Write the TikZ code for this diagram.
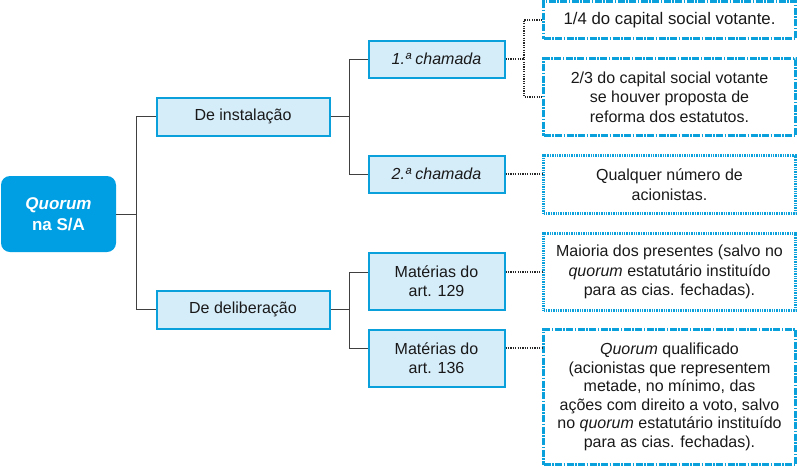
\documentclass[tikz,border=0pt]{standalone}
\usepackage{fontspec}
\setmainfont{Liberation Sans}
\definecolor{bcyan}{HTML}{0AA0DC}
\definecolor{lblue}{HTML}{D5ECF9}
\definecolor{rootc}{HTML}{009FE3}
\begin{document}
\begin{tikzpicture}[x=1pt,y=-1pt]
\tikzset{
 txt/.style={font=\fontsize{16}{19.5}\selectfont, text=black!90},
 lbox/.style={txt, draw=bcyan, line width=2pt, fill=lblue, inner sep=0pt, align=center},
 rbox/.style={txt, inner sep=0pt, align=center, minimum width=252pt},
 dashbox/.style={draw=bcyan, line width=2.2pt, dash pattern=on 7pt off 1.5pt on 1.5pt off 1.5pt},
 dotbox/.style={draw=bcyan, line width=2.2pt, dash pattern=on 1.4pt off 1pt},
 tree/.style={draw=black!75, line width=1pt},
 dots/.style={draw=black!85, line width=1.3pt, dash pattern=on 1.2pt off 1.2pt}
}
\useasboundingbox (0,0) rectangle (797,466);
% root
\node[fill=rootc, rounded corners=9pt, minimum width=115pt, minimum height=76pt, inner sep=0pt,
      text=white, font=\fontsize{17}{21}\selectfont\bfseries, align=center] (root) at (58.5,214) {\textit{Quorum}\\na S/A};
% level 1
\node[lbox, minimum width=173pt, minimum height=38pt] (inst) at (243,116.5) {De instalação};
\node[lbox, minimum width=173pt, minimum height=38pt] (delib) at (243,309.5) {De deliberação};
% level 2
\node[lbox, minimum width=136pt, minimum height=37pt] (ch1) at (436.5,59) {\itshape 1.ª chamada};
\node[lbox, minimum width=136pt, minimum height=37pt] (ch2) at (436.5,174) {\itshape 2.ª chamada};
\node[lbox, minimum width=136pt, minimum height=57pt] (m129) at (436.5,281) {Matérias do\\art. 129};
\node[lbox, minimum width=136pt, minimum height=57pt] (m136) at (436.5,358) {Matérias do\\art. 136};
% level 3
\node[rbox, dashbox, minimum height=37pt, font=\fontsize{16.8}{20}\selectfont] (a) at (669.5,20) {1/4 do capital social votante.};
\node[rbox, dashbox, minimum height=77pt] (b) at (669.5,97) {2/3 do capital social votante\\se houver proposta de\\reforma dos estatutos.};
\node[rbox, dotbox, minimum height=58pt] (c) at (669.5,184.5) {Qualquer número de\\acionistas.};
\node[rbox, dotbox, minimum height=77pt] (d) at (669.5,272) {Maioria dos presentes (salvo no\\\textit{quorum} estatutário instituído\\para as cias. fechadas).};
\node[rbox, dashbox, minimum height=135pt, font=\fontsize{16}{18.5}\selectfont] (e) at (669.5,397) {\textit{Quorum} qualificado\\(acionistas que representem\\metade, no mínimo, das\\ações com direito a voto, salvo\\no \textit{quorum} estatutário instituído\\para as cias. fechadas).};
% trunk
\coordinate (t) at (136,213);
\draw[tree] (root.east) -- (root.east -| t);
\draw[tree] (inst.west) -- (inst.west -| t) -- (delib.west -| t) -- (delib.west);
% instalação branch
\coordinate (s1) at (349,0);
\draw[tree] (inst.east) -- (inst.east -| s1);
\draw[tree] (ch1.west) -- (ch1.west -| s1) -- (ch2.west -| s1) -- (ch2.west);
% deliberação branch
\coordinate (m1w) at ([yshift=9pt]m129.west);
\coordinate (m2w) at ([yshift=10pt]m136.west);
\draw[tree] (delib.east) -- (delib.east -| s1);
\draw[tree] (m1w) -- (m1w -| s1) -- (m2w -| s1) -- (m2w);
% dotted connectors
\coordinate (s2) at (524,0);
\draw[dots] (ch1.east) -- (ch1.east -| s2);
\draw[dots] (a.west) -- (a.west -| s2) -- (b.west -| s2) -- (b.west);
\draw[dots] (ch2.east) -- (ch2.east -| c.west);
\coordinate (m1e) at ([yshift=9pt]m129.east);
\coordinate (m2e) at ([yshift=10pt]m136.east);
\draw[dots] (m1e) -- (m1e -| d.west);
\draw[dots] (m2e) -- (m2e -| e.west);
\end{tikzpicture}
\end{document}
